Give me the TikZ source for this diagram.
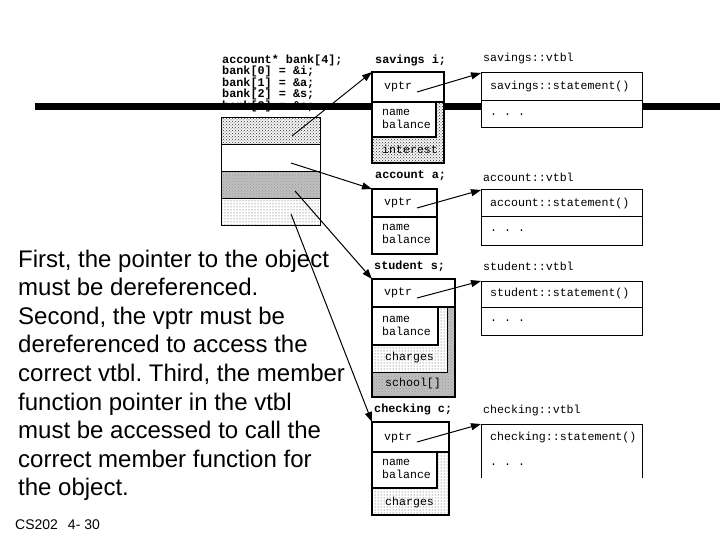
\documentclass[tikz,border=0pt]{standalone}
\usepackage{fontspec}
\setmainfont{Liberation Sans}
\newfontfamily\codefont{Liberation Mono}
\usetikzlibrary{arrows.meta,patterns}
\frenchspacing
\begin{document}
\begin{tikzpicture}[x=1pt,y=-1pt,
  code/.style={font=\codefont\bfseries\fontsize{11.8}{12}\selectfont, anchor=west, inner sep=0},
  mono/.style={font=\codefont\fontsize{11.6}{12.6}\selectfont, anchor=west, inner sep=0, align=left},
  finedot/.style={preaction={fill=gray!8}, pattern=crosshatch dots, pattern color=black!80},
  densegrey/.style={preaction={fill=gray!50}, pattern=crosshatch dots, pattern color=gray!80},
  sparsedot/.style={preaction={fill=white}, pattern=dots, pattern color=black!75},
  bankrow/.style={draw, line width=1pt, minimum width=99pt, minimum height=27pt, inner sep=0, outer sep=0},
  region/.style={inner sep=0, outer sep=0},
  cell/.style={draw, line width=2pt, fill=white, inner sep=0, outer sep=0},
  inbox/.style={draw, line width=1.3pt, fill=white, inner sep=0, outer sep=0},
  vcell/.style={draw, line width=1pt, fill=white, minimum width=161pt, inner sep=0, outer sep=0},
  ptr/.style={line width=1pt, -{Triangle[length=10pt,width=7pt]}},
  thickline/.style={line width=2pt}
]
\useasboundingbox (0,0) rectangle (720,540);

% declaration code
\node[code] (k0) at (222,60) {account* bank[4];};
\node[code] (k1) at (222,71.6) {bank[0] = \&i;};
\node[code] (k2) at (222,83.2) {bank[1] = \&a;};
\node[code] (k3) at (222,94.8) {bank[2] = \&s;};
\node[code] (k4) at (222,106.4) {bank[3] = \&c;};

% thick bar
\fill (35,103) rectangle (720,110.5);

% bank array
\node[bankrow, finedot] (r0) at (270.5,131.5) {};
\node[bankrow, fill=white] (r1) at (270.5,158.5) {};
\node[bankrow, densegrey] (r2) at (270.5,185.5) {};
\node[bankrow, sparsedot] (r3) at (270.5,212.5) {};

% savings i
\node[code] (sil) at (375,60) {savings i;};
\node[region, finedot, minimum width=72pt, minimum height=91pt] (si) at (408,117.5) {};
\node[cell, minimum width=72pt, minimum height=30pt] (siv) at (408,87) {};
\node[inbox, minimum width=64pt, minimum height=35pt] (sin) at (404,119.5) {};
\node[mono] at (384,87) {vptr};
\node[mono] at (382,119) {name\\balance};
\node[mono] at (382,149) {interest};
\draw[thickline] (si.north west) rectangle (si.south east);

% account a
\node[code] (aal) at (375,176) {account a;};
\node[region, fill=white, minimum width=65pt, minimum height=65pt] (aa) at (404.5,221.5) {};
\node[cell, minimum width=65pt, minimum height=28pt] (aav) at (404.5,203) {};
\node[mono] at (384,203) {vptr};
\node[mono] at (382,234) {name\\balance};
\draw[thickline] (aa.north west) rectangle (aa.south east);

% student s
\node[code] (ssl) at (374,266) {student s;};
\node[region, densegrey, minimum width=83pt, minimum height=118pt] (ss) at (413.5,338) {};
\node[cell, minimum width=83pt, minimum height=28pt] (ssv) at (413.5,293) {};
\node[inbox, sparsedot, line width=1pt, minimum width=75pt, minimum height=65pt] (ssc) at (409.5,339.5) {};
\node[inbox, minimum width=66pt, minimum height=38pt] (ssn) at (405,326) {};
\node[mono] at (384,293) {vptr};
\node[mono] at (382,326) {name\\balance};
\node[mono] at (385,357) {charges};
\node[mono] at (385,383) {school[]};
\draw[thickline] (ss.north west) rectangle (ss.south east);

% checking c
\node[code] (ccl) at (374,409) {checking c;};
\node[region, sparsedot, minimum width=77pt, minimum height=93pt] (cc) at (410.5,468.5) {};
\node[cell, minimum width=77pt, minimum height=30pt] (ccv) at (410.5,437) {};
\node[inbox, minimum width=65pt, minimum height=36pt] (ccn) at (404.5,470) {};
\node[mono] at (384,438) {vptr};
\node[mono] at (382,469) {name\\balance};
\node[mono] at (385,502) {charges};
\draw[thickline] (cc.north west) rectangle (cc.south east);

% vtbls
\node[mono] (svl) at (483,59) {savings::vtbl};
\node[vcell, minimum height=28pt] (svt) at (561.5,87) {};
\node[vcell, minimum height=27pt] (svd) at (561.5,114.5) {};
\node[mono] at (490,87) {savings::statement()};
\node[mono] at (490,115) {. . .};

\node[mono] (avl) at (483,177) {account::vtbl};
\node[vcell, minimum height=27pt] (avt) at (561.5,203.5) {};
\node[vcell, minimum height=28pt] (avd) at (561.5,231) {};
\node[mono] at (490,203.5) {account::statement()};
\node[mono] at (490,231) {. . .};

\node[mono] (stl) at (483,266) {student::vtbl};
\node[vcell, minimum height=26pt] (stt) at (561.5,294) {};
\node[vcell, minimum height=28pt] (std) at (561.5,321) {};
\node[mono] at (490,294) {student::statement()};
\node[mono] at (490,321) {. . .};

\node[mono] (cvl) at (483,410) {checking::vtbl};
\node[vcell, minimum height=27pt] (cvt) at (561.5,437.5) {};
\node[region, fill=white, minimum width=161pt, minimum height=27pt] (cvd) at (561.5,464.5) {};
\draw[line width=1pt] (cvd.north west) -- (cvd.south west) (cvd.north east) -- (cvd.south east);
\node[mono] at (490,437.5) {checking::statement()};
\node[mono] at (490,465) {. . .};

% pointers from bank array
\coordinate (p0) at (292,136);
\coordinate (p1) at (291,163);
\coordinate (p2) at (295,191);
\coordinate (p3) at (291,214);
\draw[ptr] (p0) -- (si.north west);
\draw[ptr] (p1) -- (aa.north west);
\draw[ptr] (p2) -- (ss.north west);
\draw[ptr] (p3) -- (cc.north west);

% vptr pointers
\coordinate (v1) at (417,92);
\coordinate (v2) at (417,208);
\coordinate (v3) at (417,298);
\coordinate (v4) at (417,442);
\draw[ptr] (v1) -- (svt.north west);
\draw[ptr] (v2) -- (avt.north west);
\draw[ptr] (v3) -- (stt.north west);
\draw[ptr] (v4) -- (cvt.north west);

% explanation
\node[anchor=north west, align=left, inner sep=0, font=\fontsize{24}{28.6}\selectfont] (txt) at (18,249.5)
{First, the pointer to the object\\must be dereferenced.\\Second, the vptr must be\\dereferenced to access the\\correct vtbl. Third, the member\\function pointer in the vtbl\\must be accessed to call the\\correct member function for\\the object.};
\node[anchor=base west, inner sep=0, font=\fontsize{14}{16}\selectfont] (foot) at (15,529) {CS202\hspace{10pt}4- 30};
\end{tikzpicture}
\end{document}
